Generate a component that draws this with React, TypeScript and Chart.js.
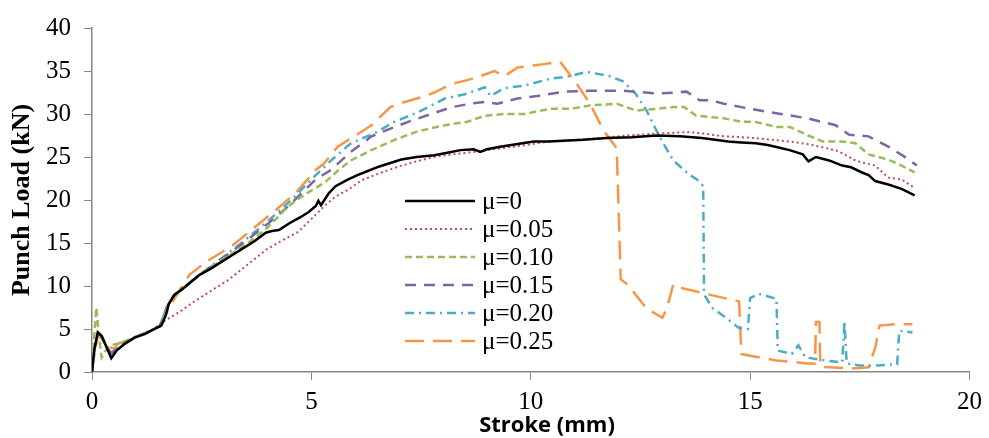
import React, { useEffect, useRef } from "react";
import { Chart, registerables } from "chart.js";

Chart.register(...registerables);

const seriesLabels = ["μ=0", "μ=0.05", "μ=0.10", "μ=0.15", "μ=0.20", "μ=0.25"];
const seriesColors = ["#000000", "#C0504D", "#9BBB59", "#8064A2", "#4BACC6", "#F79646"];
const xTitle = "Stroke (mm)";
const yTitle = "Punch Load (kN)";

const mu0X = [0, 0.05, 0.13, 0.22, 0.33, 0.44, 0.56, 0.75, 0.97, 1.2, 1.35, 1.58, 1.69, 1.75, 1.88, 2.05, 2.26, 2.45, 2.7, 2.95, 3.2, 3.45, 3.7, 3.96, 4.1, 4.26, 4.5, 4.75, 4.94, 5.1, 5.16, 5.22, 5.4, 5.55, 5.84, 6.05, 6.3, 6.55, 6.8, 7.05, 7.4, 7.8, 8.1, 8.4, 8.7, 8.85, 9.0, 9.3, 9.7, 10.07, 10.4, 10.75, 11.2, 11.73, 12.3, 12.87, 13.4, 13.9, 14.2, 14.5, 14.8, 15.13, 15.4, 15.65, 15.9, 16.2, 16.33, 16.5, 16.8, 17.1, 17.3, 17.55, 17.7, 17.85, 18.15, 18.45, 18.75];
const mu0Y = [0, 2.5, 4.6, 4.2, 2.9, 1.6, 2.5, 3.3, 4.0, 4.4, 4.8, 5.4, 6.7, 7.9, 9.0, 9.6, 10.5, 11.3, 12.0, 12.8, 13.6, 14.4, 15.2, 16.2, 16.4, 16.5, 17.3, 18.0, 18.6, 19.3, 19.9, 19.4, 20.8, 21.6, 22.4, 22.9, 23.4, 23.9, 24.3, 24.7, 25.0, 25.2, 25.5, 25.8, 25.9, 25.6, 25.9, 26.2, 26.5, 26.8, 26.8, 26.9, 27.0, 27.2, 27.3, 27.5, 27.4, 27.2, 27.0, 26.8, 26.7, 26.6, 26.4, 26.1, 25.8, 25.3, 24.5, 25.0, 24.6, 24.0, 23.8, 23.2, 22.9, 22.2, 21.8, 21.3, 20.55];

const mu005X = [0, 0.05, 0.13, 0.22, 0.33, 0.44, 0.56, 0.75, 0.97, 1.2, 1.4, 1.7, 2.0, 2.33, 2.7, 3.08, 3.4, 3.7, 3.96, 4.3, 4.7, 5.1, 5.3, 5.55, 5.84, 6.15, 6.6, 7.05, 7.4, 7.8, 8.2, 8.56, 9.0, 9.3, 9.9, 10.44, 11.0, 11.6, 12.2, 12.8, 13.2, 13.6, 14.0, 14.4, 14.8, 15.1, 15.5, 15.9, 16.3, 16.6, 17.0, 17.4, 17.6, 17.85, 18.15, 18.45, 18.75];
const mu005Y = [0, 2.5, 4.5, 4.1, 2.9, 1.8, 2.5, 3.3, 4.0, 4.5, 5.0, 6.1, 7.0, 8.2, 9.4, 10.6, 11.9, 13.1, 14.2, 15.2, 16.3, 18.3, 19.3, 20.4, 21.2, 22.3, 23.2, 24.0, 24.5, 25.0, 25.3, 25.5, 25.8, 26.0, 26.4, 26.8, 27.0, 27.2, 27.5, 27.7, 27.8, 27.9, 27.7, 27.4, 27.3, 27.2, 27.0, 26.8, 26.5, 26.2, 25.7, 24.6, 24.3, 24.0, 22.6, 22.4, 21.4];

const mu010X = [0, 0.05, 0.1, 0.16, 0.22, 0.3, 0.37, 0.5, 0.6, 0.8, 1.0, 1.3, 1.55, 1.65, 1.75, 1.9, 2.2, 2.45, 2.8, 3.2, 3.58, 4.0, 4.48, 4.9, 5.3, 5.6, 5.9, 6.37, 6.9, 7.43, 8.04, 8.56, 8.95, 9.4, 9.85, 10.44, 10.9, 11.35, 11.96, 12.4, 12.87, 13.25, 13.5, 13.77, 14.4, 14.8, 15.1, 15.6, 15.9, 16.33, 16.65, 17.1, 17.4, 17.7, 18.15, 18.45, 18.75];
const mu010Y = [0, 4.0, 7.5, 4.0, 1.7, 2.4, 2.9, 3.2, 3.3, 3.7, 4.1, 4.7, 5.3, 6.5, 8.0, 9.0, 10.2, 11.3, 12.5, 13.8, 15.1, 16.8, 19.3, 20.8, 22.0, 23.4, 24.6, 25.8, 27.0, 28.0, 28.7, 29.1, 29.8, 30.0, 30.0, 30.6, 30.6, 31.0, 31.2, 30.4, 30.6, 30.8, 30.8, 29.8, 29.5, 29.1, 29.1, 28.5, 28.5, 27.5, 26.8, 26.8, 26.6, 25.3, 24.7, 24.0, 23.2];

const mu015X = [0, 0.05, 0.13, 0.22, 0.33, 0.44, 0.56, 0.75, 1.0, 1.3, 1.55, 1.7, 1.85, 2.2, 2.6, 3.0, 3.5, 4.0, 4.5, 5.1, 5.45, 5.9, 6.37, 6.8, 7.27, 7.73, 8.2, 8.63, 8.95, 9.24, 9.7, 10.15, 10.75, 11.35, 12.1, 12.87, 13.3, 13.55, 13.85, 14.1, 14.4, 15.0, 15.7, 16.3, 16.95, 17.25, 17.7, 18.15, 18.5, 18.8];
const mu015Y = [0, 2.5, 4.4, 4.1, 3.0, 2.2, 2.7, 3.3, 4.1, 4.7, 5.4, 7.5, 8.8, 10.3, 11.8, 13.3, 15.2, 17.2, 19.4, 22.4, 23.5, 25.6, 27.4, 28.3, 29.2, 30.0, 30.8, 31.2, 31.4, 31.2, 31.8, 32.1, 32.6, 32.7, 32.7, 32.4, 32.5, 32.6, 31.6, 31.6, 31.2, 30.6, 30.0, 29.5, 28.7, 27.6, 27.4, 26.2, 25.1, 24.0];

const mu020X = [0, 0.05, 0.13, 0.22, 0.33, 0.44, 0.56, 0.75, 1.0, 1.3, 1.55, 1.7, 1.85, 2.2, 2.6, 3.0, 3.5, 4.0, 4.5, 5.1, 5.45, 5.9, 6.45, 6.9, 7.43, 8.04, 8.5, 8.95, 9.08, 9.4, 9.85, 10.44, 10.8, 11.28, 11.8, 12.1, 12.4, 12.64, 12.93, 13.25, 13.6, 13.84, 13.93, 13.95, 14.15, 14.45, 14.75, 14.95, 15.0, 15.2, 15.6, 15.63, 15.95, 16.1, 16.26, 16.7, 17.1, 17.15, 17.2, 17.5, 17.9, 18.35, 18.4, 18.7];
const mu020Y = [0, 2.5, 4.4, 4.1, 3.0, 2.1, 2.7, 3.3, 4.1, 4.7, 5.4, 7.5, 8.8, 10.3, 11.9, 13.4, 15.4, 17.5, 19.8, 22.9, 24.6, 26.6, 27.8, 29.1, 30.2, 31.8, 32.3, 33.1, 32.1, 33.0, 33.3, 34.1, 34.3, 34.9, 34.4, 33.8, 32.3, 30.4, 27.4, 24.6, 23.0, 22.2, 21.6, 9.0, 7.4, 6.3, 5.1, 5.0, 8.6, 9.1, 8.5, 2.5, 2.1, 3.1, 1.7, 1.35, 1.1, 5.9, 1.0, 0.75, 0.75, 0.9, 4.8, 4.6];

const mu025X = [0, 0.03, 0.14, 0.29, 0.41, 0.52, 0.59, 0.8, 1.0, 1.3, 1.55, 1.65, 1.8, 2.22, 2.6, 3.2, 3.8, 4.2, 4.64, 5.1, 5.3, 5.6, 6.07, 6.37, 6.8, 7.13, 7.6, 7.8, 8.2, 8.6, 8.85, 9.17, 9.4, 9.7, 10.0, 10.3, 10.67, 11.05, 11.35, 11.66, 11.96, 12.05, 12.2, 12.64, 13.0, 13.1, 13.25, 13.48, 14.07, 14.75, 14.8, 15.0, 15.6, 16.3, 16.48, 16.5, 16.58, 16.6, 16.8, 17.3, 17.7, 17.85, 17.95, 18.3, 18.7];
const mu025Y = [0, 1.3, 4.4, 3.4, 2.9, 2.7, 3.3, 3.6, 4.1, 4.7, 5.3, 6.5, 7.9, 11.3, 12.8, 14.7, 17.2, 18.9, 20.8, 23.5, 24.3, 26.2, 27.7, 28.7, 30.8, 31.4, 32.1, 32.5, 33.5, 34.0, 34.4, 35.0, 34.4, 35.4, 35.6, 35.8, 36.1, 33.5, 31.2, 28.1, 26.0, 10.8, 10.2, 7.4, 6.3, 7.4, 10.2, 9.7, 9.0, 8.2, 2.1, 1.9, 1.35, 1.0, 1.0, 5.8, 5.8, 0.6, 0.55, 0.4, 0.55, 2.8, 5.4, 5.55, 5.55];

const xTicks = [0, 5, 10, 15, 20];
const yTicks = [0, 5, 10, 15, 20, 25, 30, 35, 40];

const seriesX = [mu0X, mu005X, mu010X, mu015X, mu020X, mu025X];
const seriesY = [mu0Y, mu005Y, mu010Y, mu015Y, mu020Y, mu025Y];
const seriesDash: number[][] = [[], [2, 3], [7, 4], [11, 8], [9, 5, 2, 5], [19, 9]];
const seriesWidth = [2.5, 2, 2.5, 2.5, 2.5, 2.5];

const SERIF = "'Times New Roman', 'Liberation Serif', Times, serif";

export default function App() {
  const ref = useRef<HTMLCanvasElement>(null);
  useEffect(() => {
    if (!ref.current) return;
    const legendPlugin = {
      id: "customLegend",
      afterDatasetsDraw(chart: any) {
        const ctx = chart.ctx;
        const ds = chart.data.datasets;
        const x0 = 405;
        const x1 = 475;
        ctx.save();
        ds.forEach((d: any, i: number) => {
          const y = 201 + i * 28;
          ctx.beginPath();
          ctx.setLineDash(d.borderDash || []);
          ctx.strokeStyle = d.borderColor;
          ctx.lineWidth = d.borderWidth;
          ctx.moveTo(x0, y);
          ctx.lineTo(x1, y);
          ctx.stroke();
          ctx.setLineDash([]);
          ctx.fillStyle = "#000";
          ctx.font = "25px " + SERIF;
          ctx.textBaseline = "middle";
          ctx.textAlign = "left";
          ctx.fillText(d.label, 482, y + 1);
        });
        // x-axis title, centred where the reference places it
        ctx.font = "bold 22px 'Open Sans', sans-serif";
        ctx.textAlign = "center";
        ctx.textBaseline = "middle";
        ctx.fillStyle = "#000";
        ctx.fillText(xTitle, 547, 426);
        ctx.restore();
      },
    };
    const chart = new Chart(ref.current, {
      type: "line",
      data: {
        datasets: seriesLabels.map((label, i) => ({
          label,
          data: seriesX[i].map((x, j) => ({ x, y: seriesY[i][j] })),
          borderColor: seriesColors[i],
          backgroundColor: seriesColors[i],
          borderWidth: seriesWidth[i],
          borderDash: seriesDash[i],
          pointRadius: 0,
          tension: 0,
          fill: false,
        })),
      },
      options: {
        animation: false,
        responsive: true,
        maintainAspectRatio: false,
        layout: { padding: { top: 23, right: 14, left: 0, bottom: 0 } },
        plugins: { legend: { display: false }, tooltip: { enabled: false } },
        scales: {
          x: {
            type: "linear",
            min: 0,
            max: 20,
            afterBuildTicks: (s: any) => {
              s.ticks = xTicks.map((v) => ({ value: v }));
            },
            afterFit: (s: any) => {
              s.height = 66;
            },
            ticks: {
              color: "#000",
              font: { family: SERIF, size: 25 },
              padding: 7,
              maxRotation: 0,
              autoSkip: false,
            },
            grid: { display: true, drawOnChartArea: false, drawTicks: true, tickLength: 8, color: "#868686" },
            border: { display: true, color: "#868686", width: 1.5 },
            title: { display: false, text: xTitle },
          },
          y: {
            type: "linear",
            min: 0,
            max: 40,
            afterBuildTicks: (s: any) => {
              s.ticks = yTicks.map((v) => ({ value: v }));
            },
            afterFit: (s: any) => {
              s.width = 92;
            },
            ticks: {
              color: "#000",
              font: { family: SERIF, size: 25 },
              padding: 13,
            },
            grid: { display: true, drawOnChartArea: false, drawTicks: true, tickLength: 8, color: "#868686" },
            border: { display: true, color: "#868686", width: 1.5 },
            title: {
              display: true,
              text: yTitle,
              color: "#000",
              font: { family: SERIF, size: 26, weight: "bold" },
              padding: { top: 7, bottom: 0 },
            },
          },
        },
      },
      plugins: [legendPlugin],
    });
    return () => chart.destroy();
  }, []);
  return (
    <div style={{ position: "fixed", left: 0, top: 0, width: 989, height: 438, background: "#fff" }}>
      <canvas ref={ref} />
    </div>
  );
}
